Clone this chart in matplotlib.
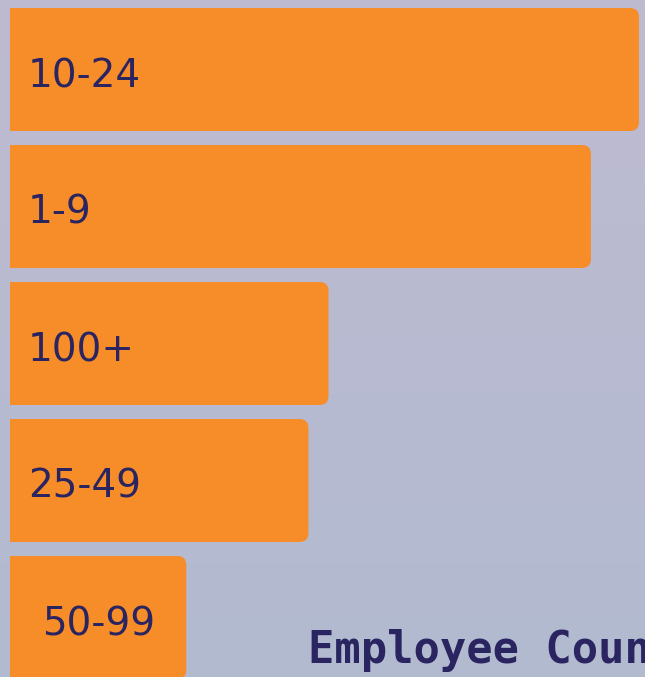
import matplotlib
matplotlib.use("Agg")
import matplotlib.pyplot as plt
from matplotlib.patches import FancyBboxPatch
import numpy as np

# employee count buckets, share of companies (%)
categories = ["10-24", "1-9", "100+", "25-49", "50-99"]
values = [31.4, 29.0, 15.9, 14.9, 8.8]
axis_title = "Employee Count"

BAR_COLOR = "#F78D28"
TEXT_COLOR = "#2A2461"
W, H, DPI = 645, 677, 100

fig = plt.figure(figsize=(W / DPI, H / DPI), dpi=DPI)

# background gradient
bg = fig.add_axes([0, 0, 1, 1], zorder=0)
top = np.array([190, 187, 208]) / 255
bot = np.array([178, 186, 208]) / 255
t = np.linspace(0, 1, 256)[:, None, None]
grad = top * (1 - t) + bot * t
grad = np.repeat(grad, 4, axis=1)
bg.imshow(grad, aspect="auto", extent=[0, 1, 0, 1], origin="upper")
bg.set_axis_off()

# plot area: from x=10px to right edge, full height
ax = fig.add_axes([10 / W, 0, 1 - 10 / W, 1], zorder=1)
ax.patch.set_alpha(0)
pitch = 137.0
xmax = values[0] * (W - 10) / 629.0
ax.set_xlim(0, xmax)
ax.set_ylim((H - 69.5) / pitch, -69.5 / pitch)
ax.set_axis_off()

bar_h = 123.0 / pitch
# data units per pixel -> aspect for rounded corners
x_per_px = xmax / (W - 10)
y_per_px = 1.0 / pitch
aspect = y_per_px / x_per_px
radius = 9 * x_per_px

for i, (cat, v) in enumerate(zip(categories, values)):
    x0 = -20 * x_per_px
    patch = FancyBboxPatch((x0, i - bar_h / 2), v - x0, bar_h,
                           boxstyle=f"round,pad=0,rounding_size={radius}",
                           mutation_aspect=aspect,
                           facecolor=BAR_COLOR, edgecolor="none", clip_on=True)
    ax.add_patch(patch)
    ty = i + 17.5 * y_per_px
    if v < 10:
        ax.text(v / 2, ty, cat, ha="center", va="baseline", fontsize=28,
                color=TEXT_COLOR, family="DejaVu Sans")
    else:
        ax.text(18 * x_per_px, ty, cat, ha="left", va="baseline", fontsize=28,
                color=TEXT_COLOR, family="DejaVu Sans")

fig.text(308 / W, 14 / H, axis_title, ha="left", va="baseline",
         fontsize=31.5, fontweight="bold", family="DejaVu Sans Mono",
         color=TEXT_COLOR, zorder=3)

fig.savefig("out.png", dpi=DPI)
